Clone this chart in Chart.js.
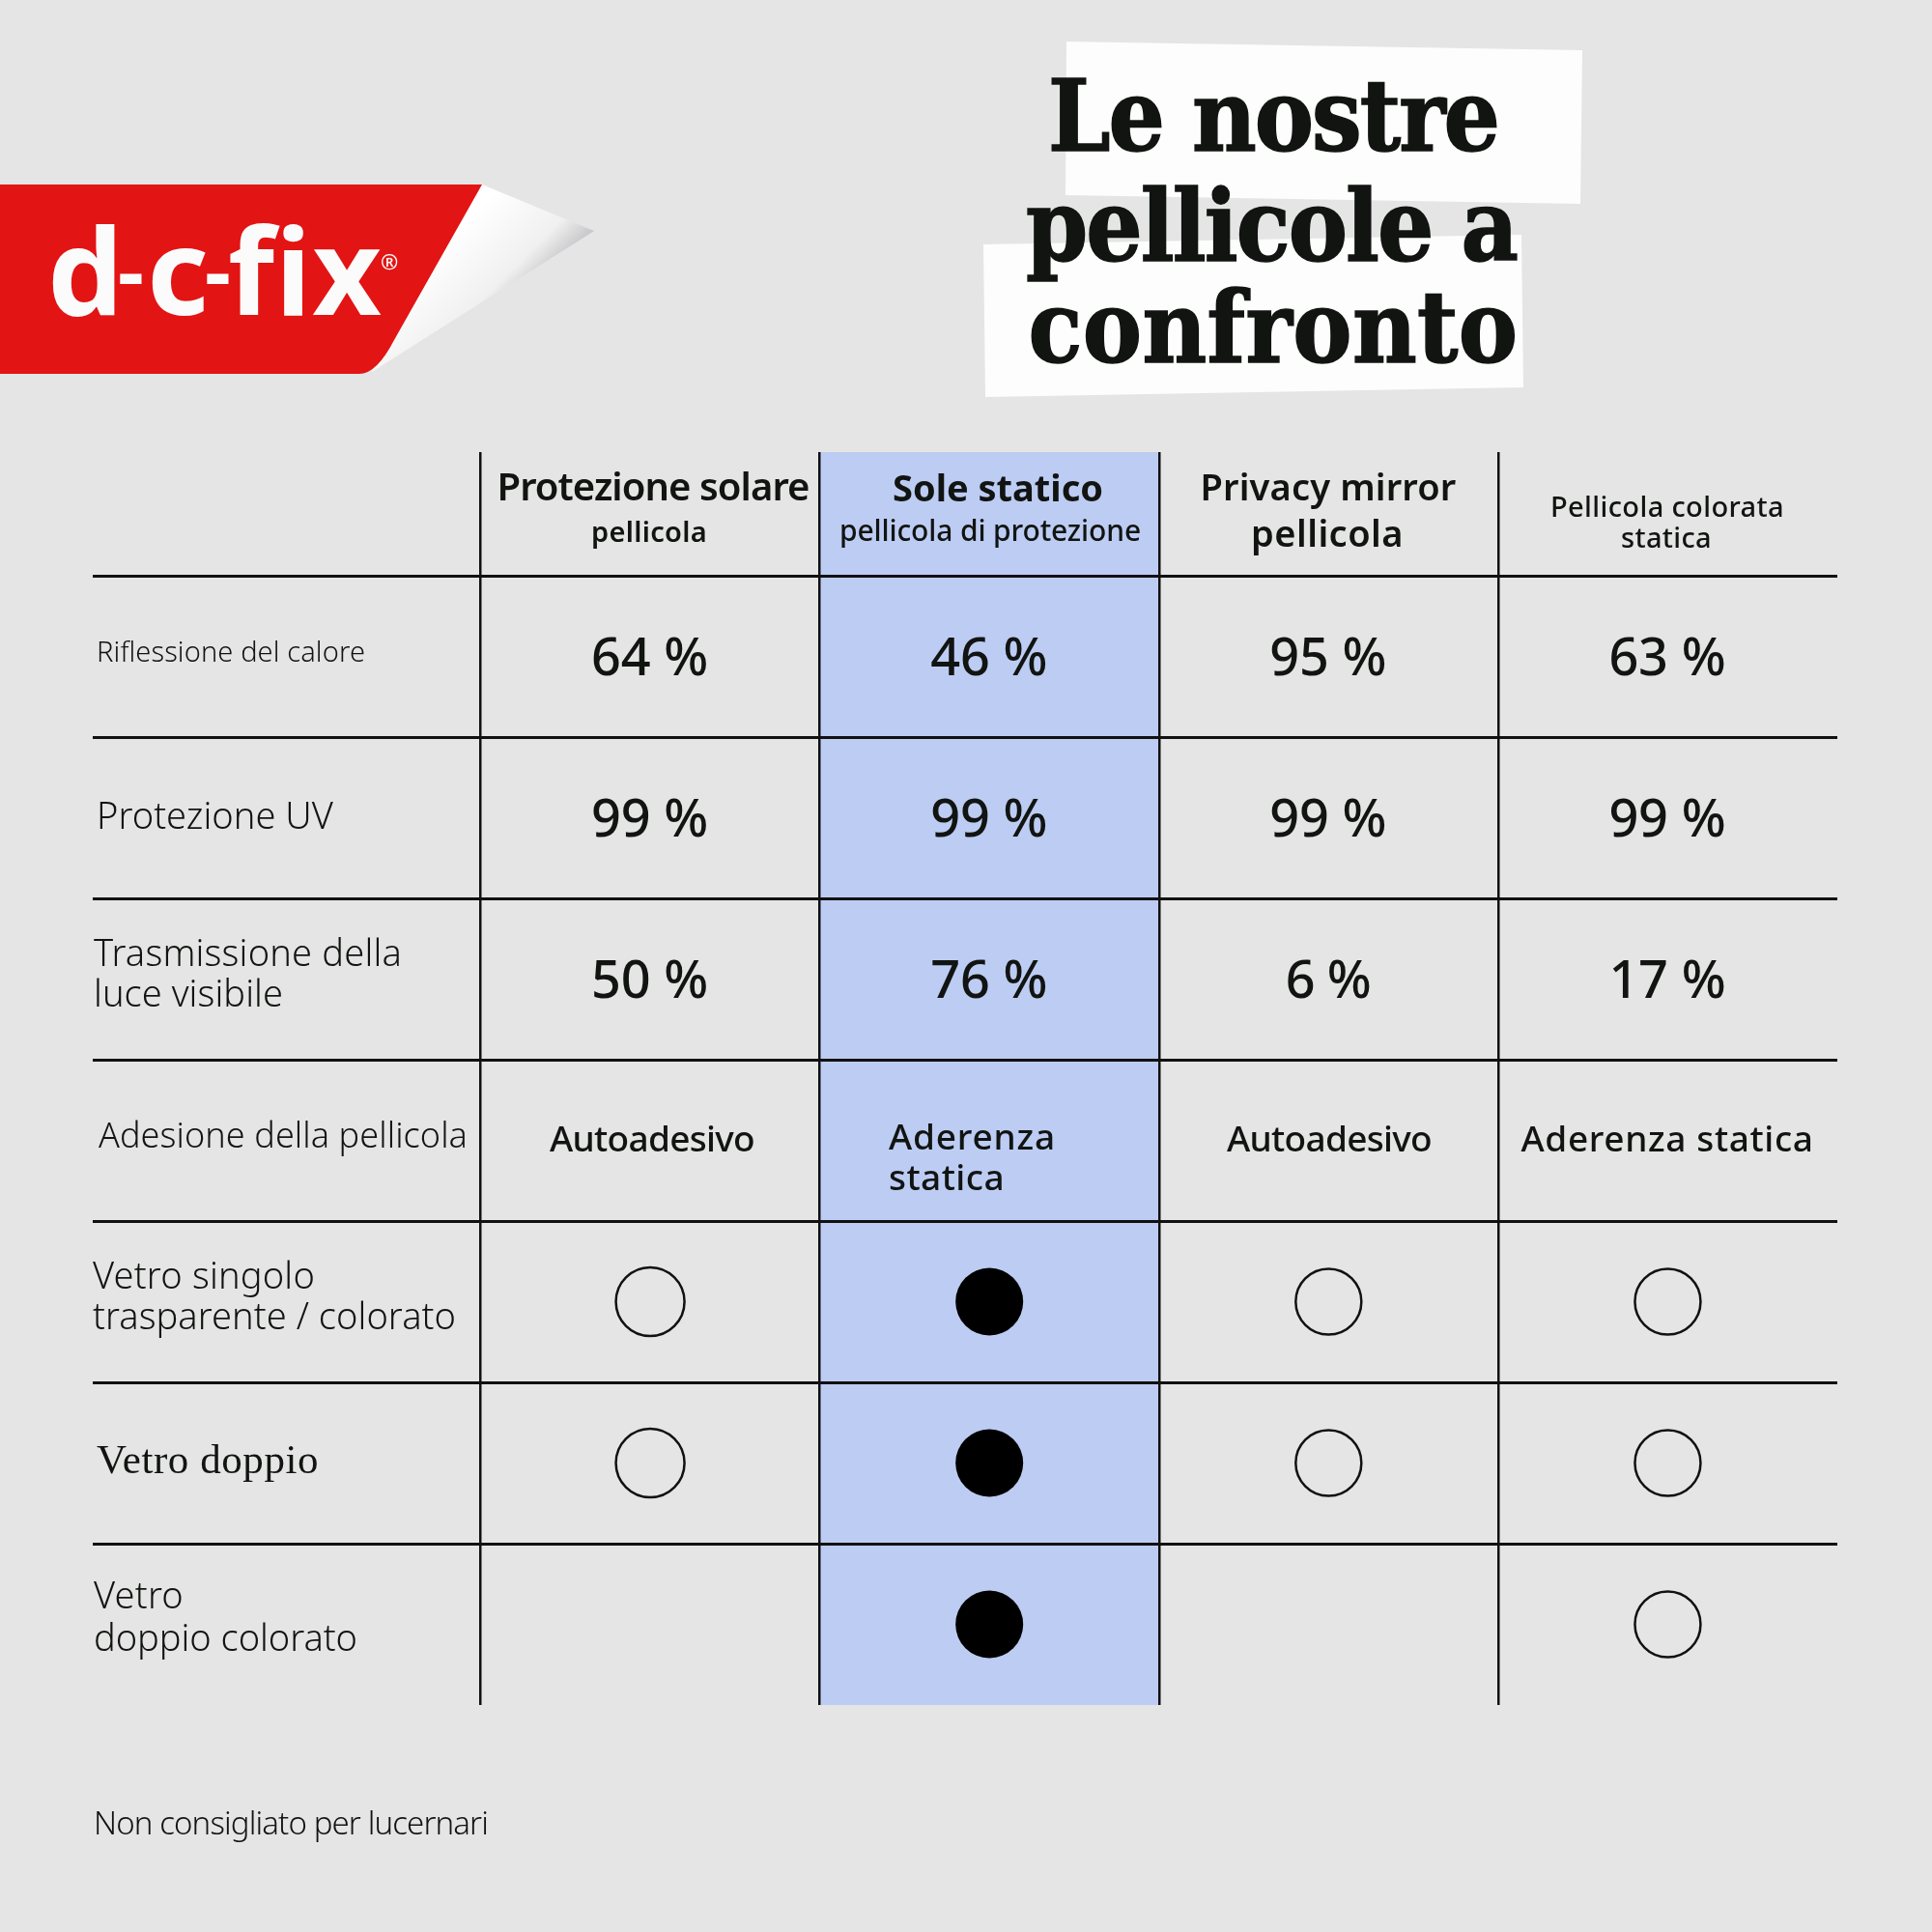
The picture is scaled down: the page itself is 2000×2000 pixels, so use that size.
<!DOCTYPE html>
<html>
<head>
<meta charset="utf-8">
<title>Le nostre pellicole a confronto</title>
<style>
  html, body { margin: 0; padding: 0; background: #e5e5e5; }
  canvas { display: block; }
</style>
<script src="https://cdn.jsdelivr.net/npm/chart.js@4/dist/chart.umd.min.js"></script>
</head>
<body>
<canvas id="chart" width="2000" height="2000"></canvas>
<script>
'use strict'

const titleLines = ['Le nostre', 'pellicole a', 'confronto']
const footnote = 'Non consigliato per lucernari'

const rowLabels = [
    ['Riflessione del calore'],
    ['Protezione UV'],
    ['Trasmissione della', 'luce visibile'],
    ['Adesione della pellicola'],
    ['Vetro singolo', 'trasparente / colorato'],
    ['Vetro doppio'],
    ['Vetro', 'doppio colorato']
]
const columnHeaders = [
    ['Protezione solare', 'pellicola'],
    ['Sole statico', 'pellicola di protezione'],
    ['Privacy mirror', 'pellicola'],
    ['Pellicola colorata', 'statica']
]

const heatReflection = [64, 46, 95, 63]
const uvProtection = [99, 99, 99, 99]
const lightTransmission = [50, 76, 6, 17]
const adhesion = [['Autoadesivo'], ['Aderenza', 'statica'], ['Autoadesivo'], ['Aderenza statica']]

// 1 = recommended (filled), 0 = suitable (open), null = nothing
const singleGlass = [0, 1, 0, 0]
const doubleGlass = [0, 1, 0, 0]
const tintedDoubleGlass = [null, 1, null, 0]

const highlightedColumn = 1

const INK = '#111411'
const SANS = '"Noto Sans"'

// text layout: [x, y, width, font]
const titleStyle = [
    [1318, 126, 466], [1316, 240, 508], [1318, 345, 507]
]
const headerStyle = [
    [[676, 504, 323, `600 40px ${SANS}`], [672, 550, 120, `600 29px ${SANS}`]],
    [[1033, 505, 218, `700 38px ${SANS}`], [1025, 548, 312, `500 30px ${SANS}`]],
    [[1375, 504, 265, `600 38px ${SANS}`], [1374, 552, 158, `600 38px ${SANS}`]],
    [[1726, 524, 242, `500 29px ${SANS}`], [1725, 556, 94, `500 29px ${SANS}`]]
]
const rowLabelStyle = [
    [[100, 674, 278, `300 29px ${SANS}`]],
    [[100, 844, 245, `300 38px ${SANS}`]],
    [[97, 986, 319, `300 38px ${SANS}`], [97, 1028, 196, `300 38px ${SANS}`]],
    [[102, 1175, 382, `300 36px ${SANS}`]],
    [[96, 1320, 230, `300 38px ${SANS}`], [96, 1362, 376, `300 38px ${SANS}`]],
    [[100, 1511, 230, '400 43px "Liberation Serif"']],
    [[97, 1651, 93, `300 38px ${SANS}`], [97, 1695, 273, `300 38px ${SANS}`]]
]
const valueFont = `500 54px ${SANS}`
const adhesionStyle = [
    [[675, 1178, 212, `500 37px ${SANS}`]],
    [[920, 1176, 173, `500 37px ${SANS}`, 'left'], [920, 1218, 120, `500 37px ${SANS}`, 'left']],
    [[1376, 1178, 212, `500 37px ${SANS}`]],
    [[1726, 1178, 303, `500 37px ${SANS}`]]
]
// logo wordmark pieces: [text, x, y, width, font]
const logoPieces = [
    ['d', 49, 288, 68, `700 124px ${SANS}`],
    ['-', 122, 284, 26, `700 84px ${SANS}`],
    ['c', 152, 288, 57, `700 124px ${SANS}`],
    ['-', 212, 284, 26, `700 84px ${SANS}`],
    ['fix', 236, 288, 160, `700 124px ${SANS}`],
    ['®', 394, 270, 20, `500 22px ${SANS}`]
]

function putText(ctx, text, x, y, width, font, align, stroke) {
    ctx.font = font
    ctx.textAlign = align || 'center'
    ctx.textBaseline = 'middle'
    ctx.letterSpacing = '0px'
    let spare = width - ctx.measureText(text).width
    ctx.letterSpacing = (spare / text.length) + 'px'
    ctx.fillText(text, x, y + 3)
    if (stroke) ctx.strokeText(text, x, y + 3)
    ctx.letterSpacing = '0px'
}

function drawPaperStrip(ctx, pts) {
    ctx.beginPath()
    pts.forEach((p, i) => i ? ctx.lineTo(p[0], p[1]) : ctx.moveTo(p[0], p[1]))
    ctx.closePath()
    ctx.fill()
}

function drawLogo(ctx) {
    // curled corner
    let peel = ctx.createLinearGradient(475, 235, 565, 325)
    peel.addColorStop(0, '#ffffff')
    peel.addColorStop(0.55, '#f0f0f0')
    peel.addColorStop(0.85, '#bdbdc0')
    peel.addColorStop(1, '#8e8e92')
    ctx.fillStyle = peel
    ctx.beginPath()
    ctx.moveTo(499, 191)
    ctx.lineTo(615, 239)
    ctx.lineTo(385, 385)
    ctx.lineTo(400, 300)
    ctx.closePath()
    ctx.fill()

    // red flag
    ctx.fillStyle = '#e31414'
    ctx.beginPath()
    ctx.moveTo(0, 191)
    ctx.lineTo(499, 191)
    ctx.lineTo(408, 352)
    ctx.quadraticCurveTo(390, 387, 372, 387)
    ctx.lineTo(0, 387)
    ctx.closePath()
    ctx.fill()

    ctx.fillStyle = '#fbfbfb'
    logoPieces.forEach(p => putText(ctx, p[0], p[1], p[2], p[3], p[4], 'left'))
}

const pagePlugin = {
    id: 'page',
    beforeDraw(chart) {
        let ctx = chart.ctx
        ctx.save()
        ctx.fillStyle = '#e5e5e5'
        ctx.fillRect(0, 0, chart.width, chart.height)
        ctx.fillStyle = '#fdfdfd'
        drawPaperStrip(ctx, [[1104, 43], [1638, 52], [1636, 211], [1103, 202]])
        drawPaperStrip(ctx, [[1018, 253], [1575, 243], [1577, 401], [1020, 411]])
        drawLogo(ctx)
        ctx.restore()
    },
    afterDraw(chart) {
        let ctx = chart.ctx
        let x = chart.scales.x
        let y = chart.scales.y
        ctx.save()
        ctx.fillStyle = INK

        ctx.strokeStyle = INK
        ctx.lineWidth = 1.5
        titleLines.forEach((line, i) => {
            let s = titleStyle[i]
            putText(ctx, line, s[0], s[1], s[2], '700 102px "DejaVu Serif Condensed", "DejaVu Serif"', 'center', true)
        })

        columnHeaders.forEach((lines, c) => {
            lines.forEach((line, l) => {
                let s = headerStyle[c][l]
                putText(ctx, line, s[0], s[1], s[2], s[3])
            })
        })

        rowLabels.forEach((lines, r) => {
            lines.forEach((line, l) => {
                let s = rowLabelStyle[r][l]
                putText(ctx, line, s[0], s[1], s[2], s[3], 'left')
            })
        })

        let percentRows = [heatReflection, uvProtection, lightTransmission]
        percentRows.forEach((row, r) => {
            row.forEach((value, c) => {
                let text = value + ' %'
                let w = value < 10 ? 88 : 121
                putText(ctx, text, x.getPixelForValue(c + 0.5) - 0.5, y.getPixelForValue(r + 0.5) + 1.5, w, valueFont)
            })
        })

        adhesion.forEach((lines, c) => {
            lines.forEach((line, l) => {
                let s = adhesionStyle[c][l]
                putText(ctx, line, s[0], s[1], s[2], s[3], s[4])
            })
        })

        putText(ctx, footnote, 97, 1887, 408, `300 33px ${SANS}`, 'left')
        ctx.restore()
    }
}

function glassPoints(wanted) {
    let points = []
    let rows = [singleGlass, doubleGlass, tintedDoubleGlass]
    rows.forEach((row, r) => {
        row.forEach((value, c) => {
            if (value === wanted) points.push({ x: c + 0.5, y: r + 4.5 })
        })
    })
    return points
}

new Chart(document.querySelector('#chart').getContext('2d'), {
    type: 'scatter',
    data: {
        datasets: [
            {
                type: 'bar',
                data: [{ x: highlightedColumn + 0.5, y: [-0.7665, 7] }],
                backgroundColor: '#bdccf3',
                barThickness: 351,
                order: 3
            },
            {
                data: glassPoints(0),
                pointRadius: (c) => c.raw && c.raw.x < 1 ? 35.5 : 34,
                pointBackgroundColor: 'rgba(0,0,0,0)',
                pointBorderColor: '#111',
                pointBorderWidth: 2.5,
                order: 1
            },
            {
                data: glassPoints(1),
                pointRadius: 35,
                pointBackgroundColor: '#000',
                pointBorderWidth: 0,
                order: 1
            }
        ]
    },
    options: {
        responsive: false,
        animation: false,
        devicePixelRatio: 1,
        layout: { padding: { left: 96, top: 468, right: 98, bottom: 235 } },
        plugins: { legend: { display: false }, tooltip: { enabled: false } },
        scales: {
            x: {
                type: 'linear',
                offset: false,
                min: -1.1435,
                max: 4,
                afterBuildTicks: (axis) => { axis.ticks = [0, 1, 2, 3].map(value => ({ value })) },
                ticks: { display: false },
                border: { display: false },
                grid: { offset: false, color: '#111', lineWidth: 2.5, drawTicks: false, z: 1 }
            },
            y: {
                type: 'linear',
                reverse: true,
                min: -0.7665,
                max: 7,
                afterBuildTicks: (axis) => { axis.ticks = [0, 1, 2, 3, 4, 5, 6].map(value => ({ value })) },
                ticks: { display: false },
                border: { display: false },
                grid: { color: '#111', lineWidth: 3, drawTicks: false, z: 1 }
            }
        }
    },
    plugins: [pagePlugin]
})
</script>
</body>
</html>
